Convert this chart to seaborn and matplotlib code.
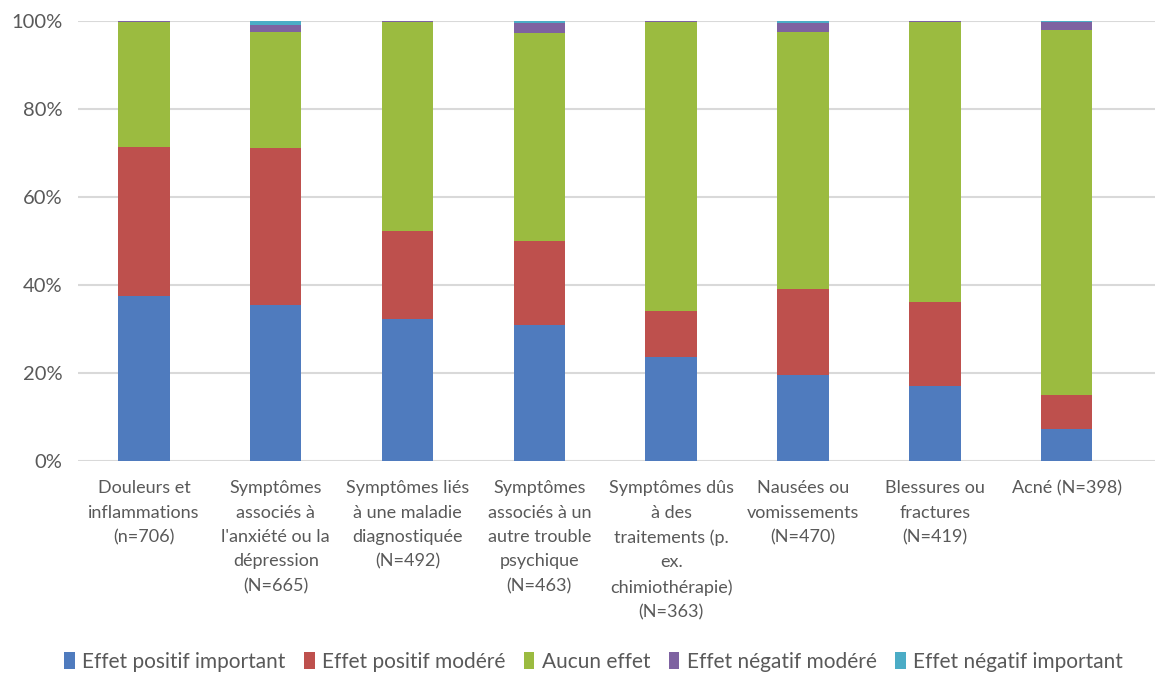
import numpy as np
import matplotlib
matplotlib.use("Agg")
import matplotlib.pyplot as plt
from matplotlib.patches import Patch
from matplotlib.ticker import FuncFormatter
import seaborn as sns

categories = [
    "Douleurs et\ninflammations\n(n=706)",
    "Symptômes\nassociés à\nl'anxiété ou la\ndépression\n(N=665)",
    "Symptômes liés\nà une maladie\ndiagnostiquée\n(N=492)",
    "Symptômes\nassociés à un\nautre trouble\npsychique\n(N=463)",
    "Symptômes dûs\nà des\ntraitements (p.\nex.\nchimiothérapie)\n(N=363)",
    "Nausées ou\nvomissements\n(N=470)",
    "Blessures ou\nfractures\n(N=419)",
    "Acné (N=398)",
]

series_names = [
    "Effet positif important",
    "Effet positif modéré",
    "Aucun effet",
    "Effet négatif modéré",
    "Effet négatif important",
]

positif_important = [37.4, 35.4, 32.3, 30.9, 23.6, 19.5, 17.1, 7.3]
positif_modere = [34.0, 35.7, 20.0, 19.1, 10.4, 19.7, 19.1, 7.6]
aucun_effet = [28.3, 26.3, 47.4, 47.2, 65.8, 58.2, 63.6, 83.1]
negatif_modere = [0.3, 1.7, 0.3, 2.3, 0.2, 2.2, 0.2, 1.8]
negatif_important = [0.0, 0.9, 0.0, 0.5, 0.0, 0.4, 0.0, 0.2]

colors = ["#4F7BBE", "#BE504D", "#9BBB40", "#7E62A1", "#4BACC6"]
text_color = "#595959"

sns.set_theme(style="white")
plt.rcParams["font.family"] = ["Lato", "DejaVu Sans"]

fig = plt.figure(figsize=(11.55, 6.75), dpi=100)
ax = fig.add_axes([0.0675, 0.317, 0.9325, 0.652])

layers = np.array([positif_important, positif_modere, aucun_effet,
                   negatif_modere, negatif_important])
cumulative = np.cumsum(layers, axis=0)

# Stack by drawing the cumulative totals from the top layer downwards
for i in range(len(series_names) - 1, -1, -1):
    sns.barplot(x=categories, y=cumulative[i], color=colors[i],
                width=0.39, saturation=1, ax=ax, zorder=3,
                edgecolor="none")

ax.set_ylim(0, 100)
ax.set_xlim(-0.5, 7.67)
ax.set_yticks([0, 20, 40, 60, 80, 100])
ax.yaxis.set_major_formatter(FuncFormatter(lambda v, _: f"{int(v)}%"))
ax.yaxis.grid(True, color="#D9D9D9", linewidth=1.5)
ax.set_axisbelow(True)
for s in ax.spines.values():
    s.set_visible(False)
ax.set_xlabel("")
ax.set_ylabel("")
ax.tick_params(axis="y", length=0, pad=11, labelsize=14.5, labelcolor=text_color)
ax.tick_params(axis="x", length=0, pad=14, labelsize=13, labelcolor=text_color)
for lbl in ax.get_xticklabels():
    lbl.set_linespacing(1.64)
    lbl.set_verticalalignment("top")

handles = [Patch(facecolor=c, edgecolor="none") for c in colors]
fig.legend(handles, series_names, loc="center", bbox_to_anchor=(0.514, 0.02),
           ncol=5, frameon=False, fontsize=15, handlelength=0.5,
           handleheight=0.85, handletextpad=0.35, columnspacing=0.9,
           labelcolor=text_color)

fig.savefig("out.png", dpi=100, facecolor="white")
